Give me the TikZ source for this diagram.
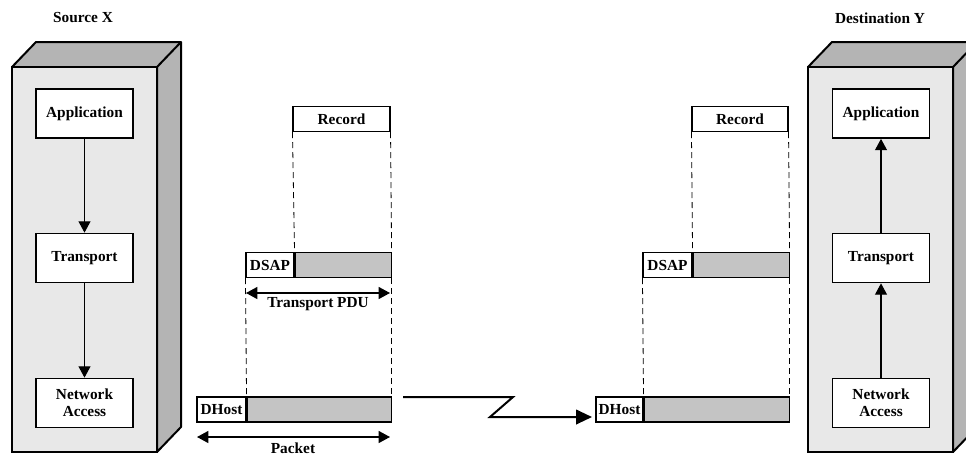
\documentclass[tikz,border=0pt]{standalone}
\usepackage{fontspec}
\setmainfont{Liberation Serif}
\usetikzlibrary{arrows.meta,positioning}
\definecolor{facegray}{HTML}{E8E8E8}
\definecolor{sidegray}{HTML}{B4B4B4}
\definecolor{cellgray}{HTML}{C4C4C4}
\begin{document}
\begin{tikzpicture}[x=0.75pt,y=-0.75pt,
  font=\fontsize{11.5}{12.5}\selectfont\bfseries,
  layer/.style={draw,line width=1.3pt,fill=white,minimum width=72.75pt,minimum height=36.75pt,align=center,inner sep=1pt},
  hdr/.style={draw,line width=0.8pt,fill=white,minimum height=18.75pt,inner sep=1pt},
  pdu/.style={draw,line width=0.8pt,fill=cellgray,minimum height=18.75pt,inner sep=0pt},
  guide/.style={dashed,dash pattern=on 4.5pt off 3pt,line width=0.6pt},
  flow/.style={line width=0.8pt,-{Triangle[width=9pt,length=8.5pt]}},
  span/.style={line width=0.9pt,{Triangle[width=9pt,length=8.5pt]}-{Triangle[width=9pt,length=8.5pt]}}]
\clip (0,0) rectangle (966,457);
% the two hosts
\foreach \x in {12,808}{
  \fill[sidegray,draw=black,line width=1.5pt,line join=round] (\x,67) -- (\x+24,42) -- (\x+169,42) -- (\x+169,427) -- (\x+145,452) -- (\x+145,67) -- cycle;
  \draw[line width=1.5pt,line join=round] (\x+145,67) -- (\x+169,42);
  \draw[fill=facegray,line width=1.5pt] (\x,67) rectangle (\x+145,452);
}
\node at (83,18) {Source X};
\node at (880,18) {Destination Y};
% source stack
\node[layer] (srcApp) at (84.5,113.5) {Application};
\node[layer] (srcTrans) at (84.5,258) {Transport};
\node[layer] (srcNet) at (84.5,403) {Network\\Access};
\draw[flow] (srcApp) -- (srcTrans);
\draw[flow] (srcTrans) -- (srcNet);
% destination stack
\node[layer] (dstApp) at (881,113.5) {Application};
\node[layer] (dstTrans) at (881,258) {Transport};
\node[layer] (dstNet) at (881,403) {Network\\Access};
\draw[flow] (dstNet) -- (dstTrans);
\draw[flow] (dstTrans) -- (dstApp);
% sender side units
\node[hdr,minimum width=72.75pt] (recA) at (341.5,119) {Record};
\node[hdr,minimum width=36pt] (dsapA) at (270,265) {DSAP};
\node[pdu,minimum width=72pt,right=0pt of dsapA] (dataA) {};
\node[hdr,minimum width=36.75pt] (dhostA) at (221.5,409.5) {DHost};
\node[pdu,minimum width=108pt,right=0pt of dhostA] (pktA) {};
\draw[guide] (recA.south west) -- (dataA.north west);
\draw[guide] (recA.south east) -- (dataA.north east);
\draw[guide] (dsapA.south west) -- (pktA.north west);
\draw[guide] (dataA.south east) -- (pktA.north east);
\coordinate (pduL) at (246,293);
\coordinate (pduR) at (390,293);
\draw[span] (pduL) -- (pduR);
\node at (318,304) {Transport PDU};
\coordinate (pktL) at (197,437);
\coordinate (pktR) at (390,437);
\draw[span] (pktL) -- (pktR);
\node at (293,448) {Packet};
% receiver side units
\node[hdr,minimum width=72pt] (recB) at (740,119) {Record};
\node[hdr,minimum width=36.75pt] (dsapB) at (667.5,265) {DSAP};
\node[pdu,minimum width=72pt,right=0pt of dsapB] (dataB) {};
\node[hdr,minimum width=35.25pt] (dhostB) at (619.5,409.5) {DHost};
\node[pdu,minimum width=108.75pt,right=0pt of dhostB] (pktB) {};
\draw[guide] (recB.south west) -- (dataB.north west);
\draw[guide] (recB.south east) -- (dataB.north east);
\draw[guide] (dsapB.south west) -- (pktB.north west);
\draw[guide] (dataB.south east) -- (pktB.north east);
% link
\coordinate (linkS) at (403,397);
\coordinate (linkE) at (592,417);
\draw[line width=1.5pt,line join=miter,-{Triangle[width=11pt,length=12pt]}] (linkS) -- (513,397) -- (490,417) -- (linkE);
\end{tikzpicture}
\end{document}
